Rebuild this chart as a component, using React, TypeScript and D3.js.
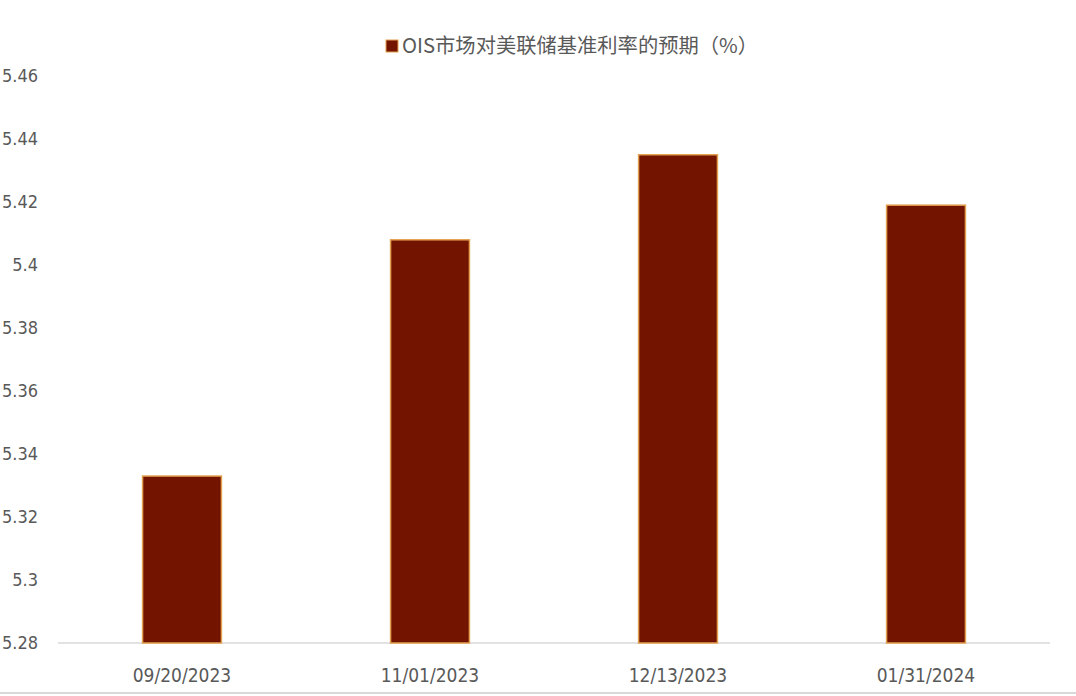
import { useEffect, useRef } from 'react';
import * as d3 from 'd3';

const categories = ['09/20/2023', '11/01/2023', '12/13/2023', '01/31/2024'];
const values = [5.333, 5.408, 5.435, 5.419];
const yTicks = [5.28, 5.3, 5.32, 5.34, 5.36, 5.38, 5.4, 5.42, 5.44, 5.46];
const seriesName = 'OIS市场对美联储基准利率的预期（%）';

const FONT = '"DejaVu Sans Condensed", "Noto Sans CJK SC", sans-serif';
const LEGEND_FONT = '"Noto Sans CJK SC", sans-serif';

export default function App() {
  const svgRef = useRef<SVGSVGElement>(null);

  useEffect(() => {
    if (!svgRef.current) return;
    const width = 1076;
    const height = 696;
    const margin = { top: 76, right: 26, bottom: 53, left: 58 };

    const root = d3.select(svgRef.current);
    root.selectAll('*').remove();
    root.attr('viewBox', `0 0 ${width} ${height}`);

    root.append('rect').attr('width', width).attr('height', height).attr('fill', '#fff');

    const x = d3
      .scaleBand<string>()
      .domain(categories)
      .range([margin.left, width - margin.right]);

    const y = d3
      .scaleLinear()
      .domain([5.28, 5.46])
      .range([height - margin.bottom, margin.top]);

    const barW = x.bandwidth() * 0.318;

    // baseline
    root
      .append('line')
      .attr('x1', margin.left)
      .attr('x2', width - margin.right)
      .attr('y1', y(5.28))
      .attr('y2', y(5.28))
      .attr('stroke', '#d9d9d9')
      .attr('stroke-width', 1.5);

    // y labels
    root
      .append('g')
      .selectAll('text')
      .data(yTicks)
      .enter()
      .append('text')
      .attr('x', 38)
      .attr('y', (d) => y(d))
      .attr('dy', '0.36em')
      .attr('text-anchor', 'end')
      .attr('fill', '#595959')
      .style('font-family', FONT)
      .style('font-size', '18px')
      .text((d) => d3.format('~g')(d));

    // bars
    root
      .append('g')
      .selectAll('rect')
      .data(values)
      .enter()
      .append('rect')
      .attr('x', (_, i) => (x(categories[i]) ?? 0) + x.bandwidth() / 2 - barW / 2)
      .attr('y', (d) => y(d))
      .attr('width', barW)
      .attr('height', (d) => y(5.28) - y(d))
      .attr('fill', '#731400')
      .attr('stroke', '#e3a04f')
      .attr('stroke-width', 1.5);

    // x labels
    root
      .append('g')
      .selectAll('text')
      .data(categories)
      .enter()
      .append('text')
      .attr('x', (d) => (x(d) ?? 0) + x.bandwidth() / 2)
      .attr('y', height - margin.bottom + 39)
      .attr('text-anchor', 'middle')
      .attr('fill', '#595959')
      .style('font-family', FONT)
      .style('font-size', '19px')
      .text((d) => d);

    // legend
    const lg = root.append('g');
    lg.append('rect')
      .attr('x', 386)
      .attr('y', 40)
      .attr('width', 12)
      .attr('height', 12)
      .attr('fill', '#731400')
      .attr('stroke', '#e3a04f')
      .attr('stroke-width', 1);
    lg.append('text')
      .attr('x', 402)
      .attr('y', 46)
      .attr('dy', '0.36em')
      .attr('fill', '#595959')
      .style('font-family', LEGEND_FONT)
      .style('font-size', '20.3px')
      .text(seriesName);

    // bottom frame line
    root
      .append('line')
      .attr('x1', 0)
      .attr('x2', width)
      .attr('y1', 693)
      .attr('y2', 693)
      .attr('stroke', '#d9d9d9')
      .attr('stroke-width', 2);
  }, []);

  return (
    <svg
      ref={svgRef}
      width={1076}
      height={696}
      style={{ position: 'absolute', left: 0, top: 0, display: 'block' }}
    />
  );
}
